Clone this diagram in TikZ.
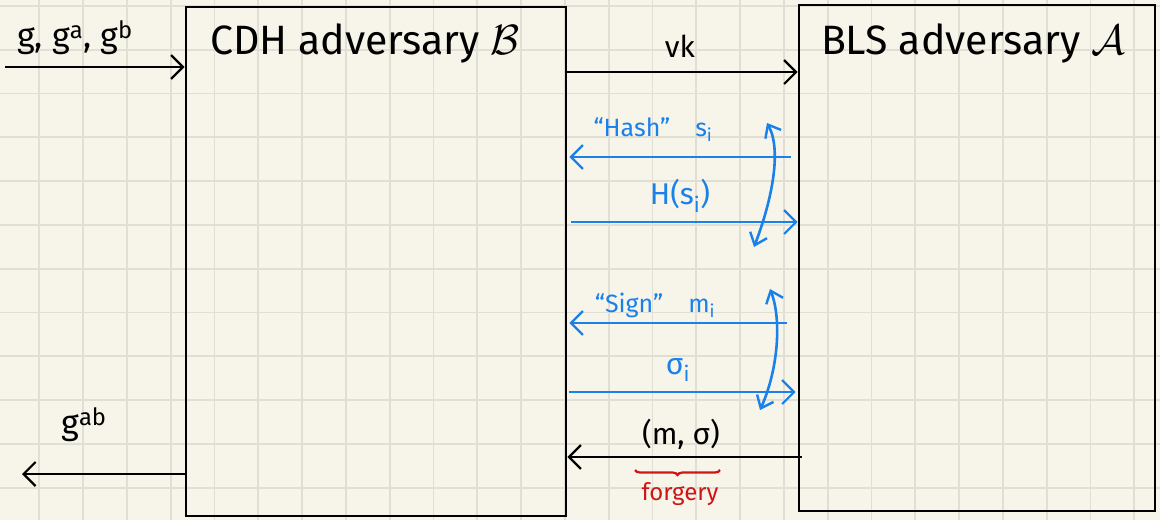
\documentclass[tikz,border=0pt]{standalone}
\usepackage{fontspec}
\setmainfont{Fira Sans}
\usetikzlibrary{arrows.meta,decorations.pathreplacing,calc}
\definecolor{paper}{HTML}{F7F5EA}
\definecolor{gridc}{HTML}{E1DFD3}
\definecolor{bluepen}{HTML}{1A80EA}
\definecolor{redpen}{HTML}{D01515}
\newcommand{\calB}{\scalebox{1.7}{$\mathcal{B}$}}
\newcommand{\calA}{\scalebox{1.7}{$\mathcal{A}$}}
\begin{document}
\begin{tikzpicture}[x=1pt,y=-1pt,
  box/.style={draw=black,line width=2.8pt,inner sep=0pt,minimum width=#1},
  tip/.style={-{Straight Barb[length=12pt,width=24pt,line width=2.2pt]}},
  blk/.style={black,line width=2.2pt,tip},
  blu/.style={bluepen,line width=2.6pt,tip},
  loopc/.style={bluepen,line width=2.6pt,{Straight Barb[length=11pt,width=18pt,line width=2.4pt]}-{Straight Barb[length=11pt,width=18pt,line width=2.4pt]}},
  ttl/.style={font=\fontsize{41}{44}\selectfont,inner sep=0pt},
  lbl/.style={font=\fontsize{30}{34}\selectfont,inner sep=0pt},
  slbl/.style={font=\fontsize{25}{28}\selectfont,inner sep=0pt},
]
\fill[paper] (0,0) rectangle (1160,520);
\useasboundingbox (0,0) rectangle (1160,520);
\begin{scope}
\clip (0,0) rectangle (1160,520);
\foreach \i in {0,...,26} \draw[gridc,line width=1.8pt] ({39.3+43.8*\i},0) -- ++(0,520);
\foreach \j in {0,...,11} \draw[gridc,line width=1.8pt] (0,{5.9+43.8*\j}) -- ++(1160,0);
\end{scope}

% boxes
\node[box=380pt,minimum height=509pt] (B) at (376,261.5) {};
\node[box=356pt,minimum height=506pt] (A) at (977,258) {};
\node[ttl] (tB) at (365,43) {CDH adversary \calB};
\node[ttl] (tA) at (973,43) {BLS adversary \calA};

% input / output
\coordinate (in) at (5,67);
\draw[blk] (in) -- (in -| B.west);
\node[lbl,font=\fontsize{34}{36}\selectfont] (inl) at (75,38) {g, g\textsuperscript{a}, g\textsuperscript{b}};
\coordinate (out) at (22,474);
\draw[blk] (B.west |- out) -- (out);
\node[lbl,font=\fontsize{34}{36}\selectfont] (outl) at (84,425) {g\textsuperscript{ab}};

% vk
\draw[blk] (B.east |- 0,72) -- (A.west |- 0,72);
\node[lbl] (vk) at (680,46) {vk};

% hash query
\draw[blu] ($(A.west |- 0,157)+(-7,0)$) -- ($(B.east |- 0,157)+(2,0)$);
\node[slbl,text=bluepen] (hq) at (653,130) {``Hash''\quad s\textsubscript{i}};
\draw[blu] ($(B.east |- 0,222)+(4,0)$) -- (A.west |- 0,222);
\node[lbl,text=bluepen] (hr) at (680,196) {H(s\textsubscript{i})};
\draw[loopc] (754,247) .. controls (772,200) and (782,150) .. (767,123);

% sign query
\draw[blu] ($(A.west |- 0,323)+(-11,0)$) -- ($(B.east |- 0,323)+(2,0)$);
\node[slbl,text=bluepen] (sq) at (655,305) {``Sign''\quad m\textsubscript{i}};
\draw[blu] ($(B.east |- 0,392)+(2,0)$) -- ($(A.west |- 0,392)+(-2,0)$);
\node[lbl,text=bluepen] (sr) at (678,370) {σ\textsubscript{i}};
\draw[loopc] (760,410) .. controls (778,370) and (782,320) .. (770,289);

% forgery
\draw[blk] ($(A.west |- 0,457)+(4,0)$) -- (B.east |- 0,457);
\node[lbl] (fg) at (681,434) {(m, σ)};
\draw[redpen,line width=2.2pt,decorate,decoration={brace,mirror,amplitude=5pt}] (635,470) -- (720,470);
\node[font=\fontsize{24}{26}\selectfont,text=redpen,inner sep=0pt] (fl) at (680,494) {forgery};
\end{tikzpicture}
\end{document}
